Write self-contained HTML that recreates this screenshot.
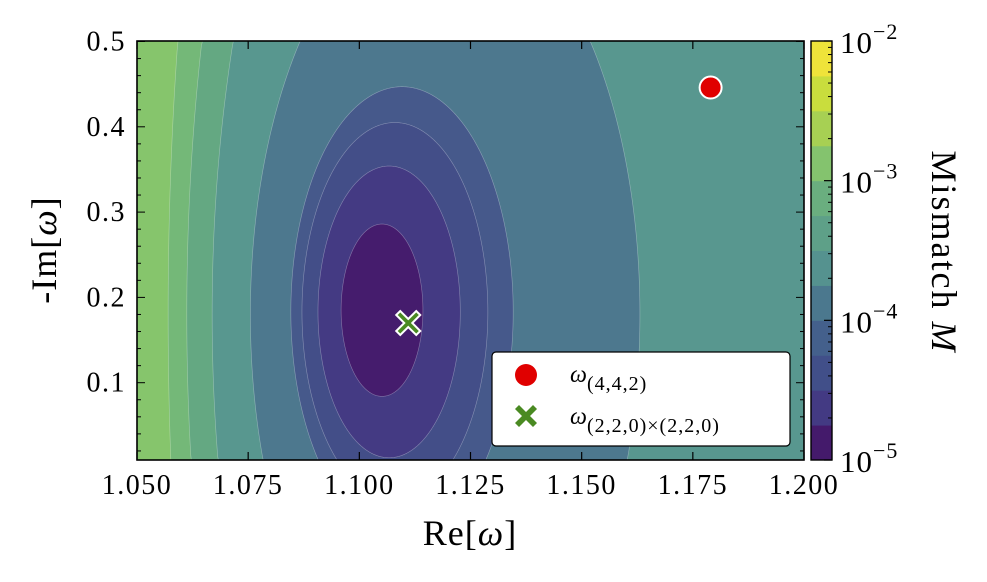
<!DOCTYPE html>
<html><head><meta charset="utf-8">
<style>
html,body{margin:0;padding:0;background:#fff;overflow:hidden;width:987px;height:582px;}
svg{display:block;font-family:"Liberation Serif","DejaVu Serif",serif;}
</style></head>
<body>
<svg id="chart" width="987" height="582" viewBox="0 0 987 582" xmlns="http://www.w3.org/2000/svg">
<g id="plot"></g>
<g id="markers"></g>
<g id="axes"></g>
<g id="cbar"></g>
</svg>
<script>
// contour levels: ellipses (outermost first) in data units
const bandColors = ["#86c56c","#74b878","#64a882","#58978f","#4d788e","#46598b","#434e88","#443a83","#451c6d"];
const ellCx = [1.19,1.18,1.17,1.1193,1.1096,1.108,1.1067,1.1051];
const ellCy = [0.18,0.18,0.18,0.18,0.183,0.183,0.183,0.185];
const ellRx = [0.133,0.1188,0.1031,0.0438,0.025,0.0209,0.016,0.0092];
const ellRy = [1.78,1.35,1.07,0.48,0.264,0.222,0.171,0.101];
const xTicks = [1.050,1.075,1.100,1.125,1.150,1.175,1.200];
const yTicks = [0.1,0.2,0.3,0.4,0.5];
const cbarExp = [-5,-4,-3,-2];
const cbarColors = ["#441a6b","#433a83","#414f89","#44608c","#4b788e","#55928f","#5ea088","#6aae7f","#84c36e","#a7d053","#c9dd3d","#efe33a"];
const redPt = [1.179,0.446];
const greenPt = [1.111,0.170];

const NS="http://www.w3.org/2000/svg";
const X0=137,X1=804,Y0=41,Y1=460;
const xs=v=>X0+(v-1.05)/0.15*(X1-X0);
const ys=v=>468-v*853;
function mk(tag,attrs,parent){const e=document.createElementNS(NS,tag);for(const k in attrs)e.setAttribute(k,attrs[k]);parent.appendChild(e);return e;}
const plot=document.getElementById('plot'),axes=document.getElementById('axes'),cb=document.getElementById('cbar'),mg=document.getElementById('markers');
const clamp=(v,a,b)=>Math.max(a,Math.min(b,v));

let bg=mk('rect',{x:X0,y:Y0,width:X1-X0,height:Y1-Y0,fill:bandColors[0]},plot);


for(let i=0;i<ellCx.length;i++){
  const cx=xs(ellCx[i]),cy=ys(ellCy[i]),rx=ellRx[i]/0.15*(X1-X0),ry=ellRy[i]*853;
  const pts=[];
  for(let k=0;k<720;k++){const a=k/720*2*Math.PI;pts.push(clamp(cx+rx*Math.cos(a),X0,X1).toFixed(2)+','+clamp(cy+ry*Math.sin(a),Y0,Y1).toFixed(2));}
  const e=mk('polygon',{points:pts.join(' '),fill:bandColors[i+1],stroke:"rgba(255,255,255,0.35)","stroke-width":0.6},plot);
  
  
}
// frame
let fr=mk('rect',{x:X0,y:Y0,width:X1-X0,height:Y1-Y0,fill:"none",stroke:"#000","stroke-width":1.6},axes);


xTicks.forEach((t,i)=>{
  const x=xs(t);
  mk('line',{x1:x,x2:x,y1:Y1,y2:Y1-8,stroke:"#000","stroke-width":1.2},axes);
  mk('line',{x1:x,x2:x,y1:Y0,y2:Y0+8,stroke:"#000","stroke-width":1.2},axes);
  const tx=mk('text',{x:x,y:494,"font-size":28,"text-anchor":"middle","letter-spacing":1.5},axes);
  tx.textContent=t.toFixed(3);
  
  
});
for(let v=0.02;v<0.5001;v+=0.02){
  const y=ys(v); if(y<Y0-0.5||y>Y1)continue;
  const major=Math.abs(v*10-Math.round(v*10))<1e-6;
  const L=major?8:4;
  mk('line',{x1:X0,x2:X0+L,y1:y,y2:y,stroke:"#000","stroke-width":1},axes);
  mk('line',{x1:X1,x2:X1-L,y1:y,y2:y,stroke:"#000","stroke-width":1},axes);
}
yTicks.forEach(t=>{
  const tx=mk('text',{x:126,y:ys(t)+9,"font-size":28,"text-anchor":"end","letter-spacing":1.5},axes);
  tx.textContent=t.toFixed(1);
  
  
});
let xl=mk('text',{x:470,y:545,"font-size":36,"text-anchor":"middle","letter-spacing":1},axes);
xl.innerHTML='Re[<tspan font-style="italic">ω</tspan>]';


let yl=mk('text',{x:0,y:0,"font-size":36,"text-anchor":"middle","letter-spacing":1,transform:"translate(56,250) rotate(-90)"},axes);
yl.innerHTML='-Im[<tspan font-style="italic">ω</tspan>]';



// markers
let rc=mk('circle',{cx:xs(redPt[0]),cy:ys(redPt[1]),r:11,fill:"#e00000",stroke:"#fff","stroke-width":2},mg);


function xmark(cx,cy,s,parent){
  const d=`M${cx-s} ${cy-s+4}l4 -4l${s-4} ${s-4}l${s-4} ${-s+4}l4 4l${-s+4} ${s-4}l${s-4} ${s-4}l-4 4l${-s+4} ${-s+4}l${-s+4} ${s-4}l-4 -4l${s-4} ${-s+4}z`;
  return mk('path',{d:d,fill:"#4a8a22"},parent);
}
let gx=xmark(xs(greenPt[0]),ys(greenPt[1]),12,mg);
gx.setAttribute('stroke','#fff');gx.setAttribute('stroke-width','2');



// legend
const lg=mk('g',{},mg);


mk('rect',{x:492,y:352,width:298,height:94,rx:4,fill:"#fff",stroke:"#000","stroke-width":1.2},lg);
mk('circle',{cx:526,cy:375,r:11,fill:"#e00000"},lg);
xmark(526,416,11,lg);
let t1=mk('text',{x:570,y:382,"font-size":24},lg);
t1.innerHTML='<tspan font-style="italic">ω</tspan><tspan font-size="20" dy="8" letter-spacing="1">(4,4,2)</tspan>';


let t2=mk('text',{x:570,y:424,"font-size":24},lg);
t2.innerHTML='<tspan font-style="italic">ω</tspan><tspan font-size="20" dy="8" letter-spacing="1">(2,2,0)×(2,2,0)</tspan>';



// colorbar
const CX=811,CW=21,bh=(Y1-Y0)/cbarColors.length;
cbarColors.forEach((c,i)=>{
  const r=mk('rect',{x:CX,y:Y1-(i+1)*bh,width:CW,height:bh+0.5,fill:c},cb);
  
  
});
mk('rect',{x:CX,y:Y0,width:CW,height:Y1-Y0,fill:"none",stroke:"#000","stroke-width":1.4},cb);
const cy=e=>Y1-(e-cbarExp[0])/(cbarExp[cbarExp.length-1]-cbarExp[0])*(Y1-Y0);
for(let e=cbarExp[0];e<cbarExp[cbarExp.length-1];e++){
  for(let m=2;m<=9;m++){const y=cy(e+Math.log10(m));mk('line',{x1:CX+CW,x2:CX+CW-4,y1:y,y2:y,stroke:"#000","stroke-width":1},cb);}
}
cbarExp.forEach(e=>{
  const y=cy(e);
  mk('line',{x1:CX+CW,x2:CX+CW-8,y1:y,y2:y,stroke:"#000","stroke-width":1.2},cb);
  const t=mk('text',{x:840,y:y+12,"font-size":31,"letter-spacing":1},cb);
  t.innerHTML='10<tspan font-size="22" dy="-14">−'+Math.abs(e)+'</tspan>';
  
  
});
let ct=mk('text',{x:0,y:0,"font-size":36,"text-anchor":"middle","letter-spacing":2,transform:"translate(932,252) rotate(90)"},cb);
ct.innerHTML='Mismatch <tspan font-style="italic">M</tspan>';


</script>
</body></html>
